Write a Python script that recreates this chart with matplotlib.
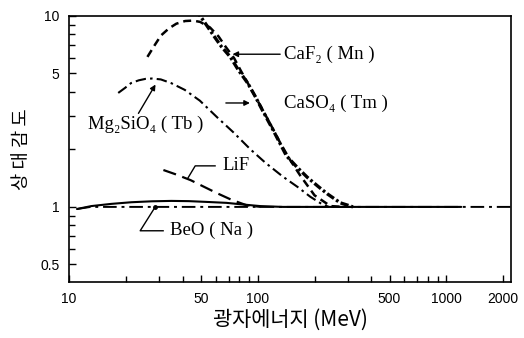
import matplotlib
import matplotlib.pyplot as plt
from matplotlib.ticker import FixedLocator, NullFormatter

matplotlib.use("Agg")

# ------------------------------------------------------------------ #
# Data
# ------------------------------------------------------------------ #

caf2_x = [26.0, 28.6, 30.7, 33.8, 37.0, 41.2, 45.4, 49.5, 55.8, 62.0, 67.5,
          75.0, 81.0, 91.5, 103.0, 117.0, 132.0, 149.0, 168.0, 200.0, 243.0, 286.0]
caf2_y = [6.1, 7.1, 7.9, 8.6, 9.1, 9.4, 9.45, 9.3, 8.7, 7.8, 6.9,
          6.0, 5.2, 4.2, 3.4, 2.7, 2.15, 1.75, 1.46, 1.15, 1.01, 1.0]

caso4_x = [46.5, 49.5, 53.7, 58.0, 64.2, 71.5, 79.0, 88.4, 96.8, 106.0, 120.0,
           142.0, 163.0, 183.0, 209.0, 234.0, 274.0, 320.0]
caso4_y = [10.8, 10.0, 8.9, 7.95, 6.9, 6.1, 5.2, 4.45, 3.8, 3.2, 2.55,
           1.85, 1.6, 1.43, 1.28, 1.17, 1.05, 1.0]

mg_x = [18.2, 19.8, 21.3, 23.4, 25.4, 27.5, 30.6, 34.7, 41.0, 49.3, 60.8,
        74.5, 91.5, 110.0, 136.0, 163.0, 190.0, 217.0, 238.0]
mg_y = [3.95, 4.2, 4.45, 4.6, 4.68, 4.7, 4.65, 4.45, 4.1, 3.6, 2.95,
        2.45, 2.0, 1.7, 1.44, 1.27, 1.13, 1.04, 1.0]

lif_x = [31.6, 36.8, 44.1, 51.4, 60.8, 72.5, 87.3, 104.0]
lif_y = [1.56, 1.48, 1.38, 1.28, 1.18, 1.09, 1.02, 1.0]

beo_x = [11.0, 13.1, 16.7, 21.4, 27.5, 34.8, 43.1, 53.6, 68.3, 83.0, 103.0,
         136.0, 300.0, 1200.0]
beo_y = [0.975, 1.01, 1.037, 1.058, 1.07, 1.075, 1.072, 1.062, 1.05, 1.03, 1.01,
         1.0, 1.0, 1.0]

base_x = [11.0, 13.0, 20.0, 100.0, 2200.0]
base_y = [0.975, 1.0, 1.0, 1.0, 1.0]

x_ticks = [10, 50, 100, 500, 1000, 2000]
x_labels = ["10", "50", "100", "500", "1000", "2000"]
y_ticks = [0.5, 1, 5, 10]
y_labels = ["0.5", "1", "5", "10"]

SERIF = ["Liberation Serif", "DejaVu Serif"]
KOREAN = ["Noto Sans CJK KR", "DejaVu Sans"]

# ------------------------------------------------------------------ #
# Figure
# ------------------------------------------------------------------ #

fig = plt.figure(figsize=(5.24, 3.38), dpi=100)
ax = fig.add_axes([0.132, 0.166, 0.843, 0.787])
ax.set_xscale("log")
ax.set_yscale("log")
ax.set_xlim(10, 2200)
ax.set_ylim(0.405, 10)

ax.plot(base_x, base_y, color="black", lw=1.4, dashes=(7, 2.5, 1.5, 2.5))
ax.plot(beo_x, beo_y, color="black", lw=1.5, solid_capstyle="round")
ax.plot(lif_x, lif_y, color="black", lw=1.6, dashes=(6, 3))
ax.plot(mg_x, mg_y, color="black", lw=1.5, dashes=(5, 2, 1.2, 2))
ax.plot(caso4_x, caso4_y, color="black", lw=2.4, dashes=(2.5, 0.8, 0.8, 0.8))
ax.plot(caf2_x, caf2_y, color="black", lw=1.8, dashes=(3.2, 2))

# axes styling
for sp in ax.spines.values():
    sp.set_linewidth(1.2)
ax.xaxis.set_major_locator(FixedLocator(x_ticks))
ax.xaxis.set_minor_locator(FixedLocator([20, 30, 40, 60, 70, 80, 90,
                                         200, 300, 400, 600, 700, 800, 900]))
ax.set_xticklabels(x_labels)
ax.xaxis.set_minor_formatter(NullFormatter())
ax.yaxis.set_major_locator(FixedLocator(y_ticks))
ax.yaxis.set_minor_locator(FixedLocator([0.6, 0.7, 0.8, 0.9, 2, 3, 4, 6, 7, 8, 9]))
ax.set_yticklabels(y_labels)
ax.yaxis.set_minor_formatter(NullFormatter())
ax.tick_params(which="both", direction="in", top=False, right=False,
               labelsize=10, width=1.0)
ax.tick_params(which="major", length=5, pad=7)
ax.tick_params(which="minor", length=4)
for lab in ax.get_xticklabels() + ax.get_yticklabels():
    lab.set_family(["Liberation Sans", "DejaVu Sans"])

ax.set_xlabel("광자에너지 (MeV)", family=KOREAN, fontsize=15, labelpad=2)
ax.set_ylabel("상 대 감 도", family=KOREAN, fontsize=13.5, labelpad=6)

# annotations
arrow = dict(arrowstyle="-|>", color="black", lw=1.0, mutation_scale=8)
ax.annotate("", xy=(71, 6.3), xytext=(136, 6.3), arrowprops=arrow)
ax.text(138, 6.3, "CaF₂ ( Mn )", family=SERIF, fontsize=13.5, va="center", ha="left")

ax.annotate("", xy=(94, 3.5), xytext=(65.5, 3.5), arrowprops=arrow)
ax.text(138, 3.5, "CaSO₄ ( Tm )", family=SERIF, fontsize=13.5, va="center", ha="left")

ax.annotate("", xy=(29.2, 4.5), xytext=(22.9, 3.0), arrowprops=arrow)
ax.text(12.6, 2.69, "Mg₂SiO₄ ( Tb )", family=SERIF, fontsize=13.5, va="center", ha="left")

ax.plot([42.7, 46.6, 59.4], [1.42, 1.64, 1.64], color="black", lw=1.0)
ax.text(64.7, 1.64, "LiF", family=SERIF, fontsize=13.5, va="center", ha="left")

ax.plot([28.6, 23.8, 31.5], [1.0, 0.75, 0.75], color="black", lw=1.0)
ax.plot([28.6], [1.0], marker="o", ms=2.5, color="black")
ax.text(34.3, 0.75, "BeO ( Na )", family=SERIF, fontsize=13.5, va="center", ha="left")

fig.savefig("out.png", dpi=100)
